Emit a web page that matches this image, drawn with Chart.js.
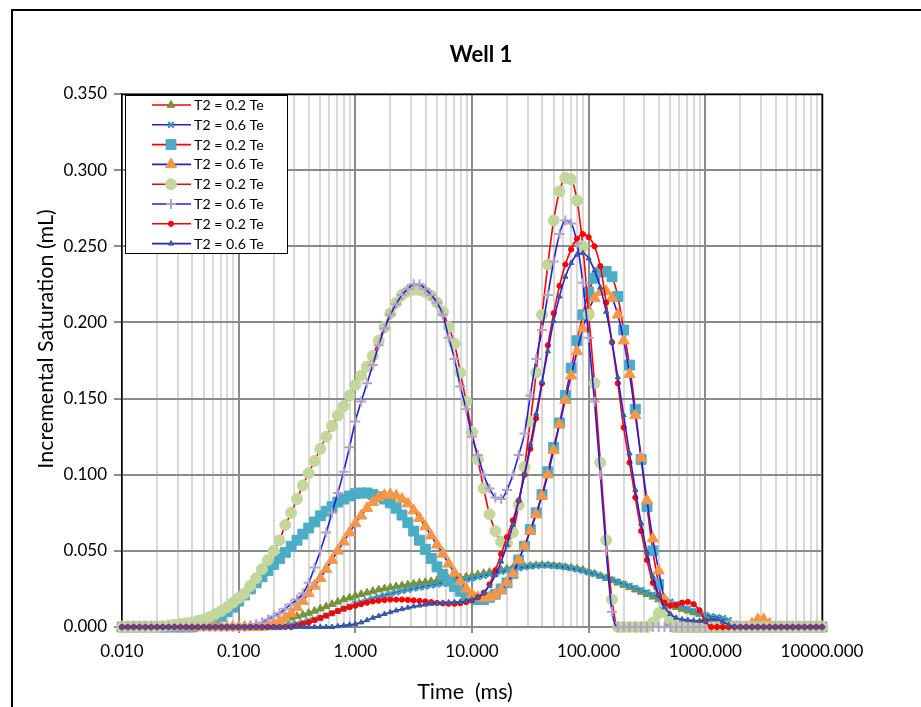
<!DOCTYPE html>
<html>
<head>
<meta charset="utf-8">
<title>Well 1</title>
<script src="https://cdn.jsdelivr.net/npm/chart.js@4.4.1/dist/chart.umd.min.js"></script>
<style>
  html, body { margin: 0; padding: 0; background: #fff; overflow: hidden; }
  canvas { display: block; }
</style>
</head>
<body>
<canvas id="chart" width="921" height="707"></canvas>
<script>
// T2 bin centres (ms): log-spaced, 20 bins per decade from 0.01 to 10000 ms
const t2Bins = [];
for (let k = 0; k <= 120; k++) t2Bins.push(Number((0.01 * Math.pow(10, k / 20)).toPrecision(6)));

// Incremental saturation (mL) per T2 bin, one array per curve
const sat02a = [
  0,0,0,0,0,0,0,0,0,0,
  0,0,0,0,0,0,0,0,0,0,
  0,0,0,0,0.001,0.002,0.003,0.004,0.005,0.006,
  0.007,0.008,0.0092,0.0105,0.012,0.0135,0.015,0.0165,0.018,0.0192,
  0.0205,0.0215,0.0225,0.0235,0.0245,0.0252,0.026,0.0266,0.0272,0.0278,
  0.0284,0.029,0.0295,0.03,0.0305,0.031,0.0315,0.032,0.0325,0.033,
  0.0337,0.0345,0.0353,0.036,0.0368,0.0375,0.0382,0.0388,0.0394,0.0398,
  0.0402,0.0405,0.0406,0.0405,0.0402,0.0398,0.0393,0.0388,0.0382,0.0374,
  0.0362,0.035,0.0335,0.032,0.0305,0.029,0.0275,0.026,0.0245,0.023,
  0.0215,0.0198,0.018,0.0162,0.0145,0.013,0.0118,0.0106,0.0095,0.0085,
  0.006,0.003,0.001,0,0,0,0,0,0,0,
  0,0,0,0,0,0,0,0,0,0,
  0
];
const sat06a = [
  0,0,0,0,0,0,0,0,0,0,
  0,0,0,0,0,0,0,0,0,0,
  0,0,0,0,0,0,0,0,0.001,0.0015,
  0.002,0.003,0.004,0.005,0.006,0.0075,0.009,0.0105,0.012,0.0135,
  0.015,0.0163,0.0175,0.0187,0.0198,0.0208,0.0218,0.0228,0.0237,0.0245,
  0.0253,0.026,0.0267,0.0274,0.028,0.0287,0.0293,0.03,0.0306,0.0313,
  0.032,0.0328,0.0336,0.0345,0.0354,0.0363,0.0372,0.038,0.0387,0.0393,
  0.0398,0.0402,0.0404,0.0404,0.0402,0.0398,0.0393,0.0386,0.0378,0.0369,
  0.0358,0.0347,0.0335,0.0322,0.031,0.0297,0.0284,0.027,0.0256,0.0242,
  0.0228,0.0213,0.0198,0.0182,0.0166,0.015,0.0135,0.012,0.0105,0.009,
  0.0078,0.007,0.0065,0.0058,0.0045,0.002,0,0,0,0,
  0,0,0,0,0,0,0,0,0,0,
  0
];
const sat02b = [
  0,0,0,0,0,0,0,0,0,0,
  0,0,0,0.001,0.002,0.003,0.005,0.007,0.01,0.013,
  0.017,0.021,0.025,0.029,0.033,0.037,0.041,0.045,0.049,0.053,
  0.057,0.061,0.065,0.069,0.073,0.076,0.079,0.082,0.084,0.086,
  0.0875,0.088,0.088,0.087,0.0855,0.084,0.0815,0.078,0.0735,0.0685,
  0.063,0.057,0.051,0.045,0.0395,0.0345,0.03,0.0265,0.0235,0.021,
  0.019,0.018,0.018,0.0195,0.0215,0.025,0.029,0.035,0.044,0.053,
  0.064,0.075,0.087,0.102,0.118,0.134,0.152,0.17,0.188,0.205,
  0.22,0.229,0.233,0.2335,0.23,0.217,0.195,0.172,0.143,0.11,
  0.079,0.05,0.028,0.01,0.003,0,0,0,0,0,
  0,0,0,0,0,0,0,0,0,0,
  0,0,0,0,0,0,0,0,0,0,
  0
];
const sat06b = [
  0,0,0,0,0,0,0,0,0,0,
  0,0,0,0,0,0,0,0,0,0,
  0,0,0,0,0,0.001,0.002,0.004,0.006,0.009,
  0.013,0.017,0.022,0.027,0.032,0.038,0.044,0.05,0.056,0.062,
  0.068,0.073,0.078,0.082,0.085,0.0865,0.087,0.0862,0.084,0.081,
  0.0765,0.0715,0.066,0.06,0.054,0.048,0.0415,0.0355,0.03,0.025,
  0.0215,0.0195,0.019,0.0195,0.021,0.024,0.029,0.035,0.044,0.053,
  0.063,0.074,0.086,0.1,0.116,0.133,0.149,0.165,0.181,0.196,
  0.208,0.216,0.22,0.2205,0.216,0.205,0.188,0.166,0.139,0.111,
  0.083,0.058,0.037,0.018,0.006,0,0,0,0,0,
  0,0,0,0,0,0,0,0,0.002,0.005,
  0.005,0.002,0,0,0,0,0,0,0,0,
  0
];
const sat02c = [
  0,0,0,0,0,0,0,0.0005,0.001,0.0015,
  0.002,0.0025,0.003,0.004,0.005,0.0065,0.0085,0.0105,0.013,0.016,
  0.019,0.022,0.027,0.032,0.038,0.044,0.05,0.057,0.067,0.075,
  0.084,0.093,0.101,0.109,0.117,0.125,0.132,0.139,0.145,0.152,
  0.159,0.165,0.171,0.178,0.188,0.197,0.206,0.213,0.218,0.2205,
  0.2215,0.2213,0.22,0.2175,0.213,0.207,0.197,0.186,0.167,0.148,
  0.128,0.11,0.091,0.074,0.063,0.056,0.055,0.062,0.08,0.105,
  0.135,0.167,0.205,0.238,0.267,0.286,0.295,0.294,0.28,0.25,
  0.205,0.16,0.108,0.057,0.018,0,0,0,0,0,
  0,0.003,0.009,0.01,0.005,0,0,0,0,0,
  0,0,0,0,0,0,0,0,0,0,
  0,0,0,0,0,0,0,0,0,0,
  0
];
const sat06c = [
  0,0,0,0,0,0,0,0,0,0,
  0,0,0,0,0,0,0,0,0,0,
  0,0,0.001,0.002,0.003,0.005,0.007,0.009,0.012,0.015,
  0.018,0.022,0.029,0.039,0.05,0.062,0.075,0.088,0.102,0.118,
  0.135,0.148,0.16,0.172,0.185,0.196,0.205,0.212,0.218,0.222,
  0.225,0.225,0.222,0.218,0.213,0.205,0.19,0.176,0.158,0.143,
  0.125,0.113,0.1,0.091,0.085,0.084,0.09,0.1,0.113,0.127,
  0.152,0.176,0.195,0.218,0.24,0.258,0.267,0.265,0.252,0.226,
  0.19,0.148,0.1,0.05,0.01,0,0,0,0,0,
  0,0,0,0,0,0,0,0,0,0,
  0,0,0,0,0,0,0,0,0,0,
  0,0,0,0,0,0,0,0,0,0,
  0
];
const sat02d = [
  0,0,0,0,0,0,0,0,0,0,
  0,0,0,0,0,0,0,0,0,0,
  0,0,0,0,0,0,0,0,0,0,
  0.001,0.002,0.003,0.0045,0.006,0.0075,0.009,0.0105,0.012,0.013,
  0.014,0.015,0.016,0.0168,0.0173,0.0177,0.018,0.018,0.018,0.0178,
  0.0175,0.0172,0.0168,0.0163,0.0158,0.0155,0.0153,0.0153,0.0156,0.0163,
  0.0175,0.0195,0.0225,0.028,0.037,0.048,0.059,0.07,0.083,0.1,
  0.117,0.137,0.16,0.185,0.206,0.224,0.238,0.248,0.255,0.258,
  0.256,0.25,0.237,0.213,0.187,0.16,0.131,0.108,0.085,0.063,
  0.044,0.029,0.021,0.016,0.014,0.0145,0.016,0.0165,0.015,0.011,
  0.004,0,0,0,0,0,0,0,0,0,
  0,0,0,0,0,0,0,0,0,0,
  0
];
const sat06d = [
  0,0,0,0,0,0,0,0,0,0,
  0,0,0,0,0,0,0,0,0,0,
  0,0,0,0,0,0,0,0,0,0,
  0,0,0,0,0,0,0,0.0005,0.001,0.0015,
  0.002,0.003,0.0045,0.006,0.0072,0.0085,0.0097,0.0108,0.0118,0.0127,
  0.0135,0.0141,0.0147,0.0152,0.0156,0.0159,0.0161,0.0163,0.0165,0.017,
  0.018,0.0195,0.0225,0.027,0.034,0.043,0.054,0.067,0.083,0.1,
  0.12,0.14,0.161,0.181,0.201,0.217,0.23,0.239,0.2445,0.2455,
  0.242,0.234,0.223,0.207,0.187,0.164,0.139,0.114,0.09,0.068,
  0.049,0.033,0.021,0.013,0.0085,0.006,0.005,0.0045,0.0042,0.004,
  0.004,0.005,0.005,0.0035,0.0015,0,0,0,0,0,
  0,0,0,0,0,0,0,0,0,0,
  0
];

const seriesNames = ['T2 = 0.2 Te', 'T2 = 0.6 Te', 'T2 = 0.2 Te', 'T2 = 0.6 Te',
                     'T2 = 0.2 Te', 'T2 = 0.6 Te', 'T2 = 0.2 Te', 'T2 = 0.6 Te'];
const seriesValues = [sat02a, sat06a, sat02b, sat06b, sat02c, sat06c, sat02d, sat06d];

const xDecades = [0.01, 0.1, 1, 10, 100, 1000, 10000];
const yTickValues = [0, 0.05, 0.10, 0.15, 0.20, 0.25, 0.30, 0.35];

const RED = '#FF0000';
const BLUE = '#2020DA';
const styles = [
  { line: RED,  marker: 'triangle', r: 4.5, fill: '#77933C', stroke: '#77933C', bw: 1 },
  { line: BLUE, marker: 'crossRot', r: 4,   fill: '#3E9BB3', stroke: '#3E9BB3', bw: 2.2 },
  { line: RED,  marker: 'rect',     r: 7,   fill: '#4BACC6', stroke: '#4BACC6', bw: 1 },
  { line: BLUE, marker: 'triangle', r: 6.5, fill: '#F79646', stroke: '#F79646', bw: 1 },
  { line: RED,  marker: 'circle',   r: 5.5, fill: '#C3D69B', stroke: '#C3D69B', bw: 1 },
  { line: BLUE, marker: 'cross',    r: 5,   fill: '#B3A2C7', stroke: '#B3A2C7', bw: 2 },
  { line: RED,  marker: 'circle',   r: 2.6, fill: '#FF0000', stroke: '#FF0000', bw: 1 },
  { line: BLUE, marker: 'triangle', r: 3,   fill: '#3A5BA0', stroke: '#3A5BA0', bw: 1 }
];

const FONT = 'Lato, "Liberation Sans", sans-serif';

const datasets = seriesValues.map((vals, k) => ({
  label: seriesNames[k],
  data: t2Bins.map((x, j) => ({ x: x, y: vals[j] })),
  borderColor: styles[k].line,
  borderWidth: 1.6,
  backgroundColor: styles[k].fill,
  pointStyle: styles[k].marker,
  pointRadius: styles[k].r,
  pointBackgroundColor: styles[k].fill,
  pointBorderColor: styles[k].stroke,
  pointBorderWidth: styles[k].bw,
  cubicInterpolationMode: 'monotone',
  fill: false,
  clip: false,
  order: seriesValues.length - 1 - k
}));

const isDecade = v => { const l = Math.log10(v); return Math.abs(l - Math.round(l)) < 1e-9; };

// page frame, plot border, title and axis titles
const decorPlugin = {
  id: 'decor',
  beforeDraw(chart) {
    const c = chart.ctx;
    c.save();
    c.fillStyle = '#fff';
    c.fillRect(0, 0, chart.width, chart.height);
    c.strokeStyle = '#000';
    c.lineWidth = 2;
    c.beginPath();
    c.moveTo(12, chart.height + 5);
    c.lineTo(12, 10);
    c.lineTo(chart.width + 5, 10);
    c.stroke();
    c.restore();
  },
  beforeDatasetsDraw(chart) {
    const a = chart.chartArea, c = chart.ctx;
    c.save();
    c.strokeStyle = '#000';
    c.lineWidth = 1.5;
    c.beginPath();
    c.moveTo(a.left, a.top + 0.5);
    c.lineTo(a.right, a.top + 0.5);
    c.moveTo(a.right + 0.5, a.top);
    c.lineTo(a.right + 0.5, a.bottom);
    c.stroke();
    c.restore();
  },
  afterDraw(chart) {
    const c = chart.ctx;
    c.save();
    c.fillStyle = '#000';
    c.textAlign = 'center';
    c.textBaseline = 'middle';
    c.font = 'bold 22px ' + FONT;
    c.fillText('Well 1', 481, 55);
    c.font = '21.5px ' + FONT;
    c.fillText('Time  (ms)', 465, 692);
    c.translate(46, 339);
    c.rotate(-Math.PI / 2);
    c.fillText('Incremental Saturation (mL)', 0, 0);
    c.restore();
  }
};

// boxed legend inside the plot area
const boxLegendPlugin = {
  id: 'boxLegend',
  afterDatasetsDraw(chart) {
    const c = chart.ctx;
    const x0 = 125, y0 = 95, w = 162, h = 158;
    c.save();
    c.fillStyle = '#fff';
    c.fillRect(x0, y0, w, h);
    c.strokeStyle = '#000';
    c.lineWidth = 1;
    c.strokeRect(x0 + 0.5, y0 + 0.5, w, h);
    c.font = '14.2px ' + FONT;
    c.textAlign = 'left';
    c.textBaseline = 'middle';
    chart.data.datasets.forEach((ds, k) => {
      const y = 105 + k * 19.8;
      c.strokeStyle = ds.borderColor;
      c.lineWidth = 1.6;
      c.beginPath();
      c.moveTo(152, y);
      c.lineTo(191, y);
      c.stroke();
      c.fillStyle = ds.pointBackgroundColor;
      c.strokeStyle = ds.pointBorderColor;
      c.lineWidth = ds.pointBorderWidth;
      Chart.helpers.drawPoint(c, {
        pointStyle: ds.pointStyle, radius: ds.pointRadius, rotation: 0, borderWidth: ds.pointBorderWidth
      }, 171, y);
      c.fillStyle = '#000';
      c.fillText(ds.label, 194, y + 0.5);
    });
    c.restore();
  }
};

function draw() {
  new Chart(document.getElementById('chart'), {
    type: 'line',
    data: { datasets },
    plugins: [decorPlugin, boxLegendPlugin],
    options: {
      responsive: false,
      animation: false,
      events: [],
      layout: { padding: { left: 0, top: 94, right: 99, bottom: 0 } },
      plugins: { legend: { display: false }, title: { display: false }, tooltip: { enabled: false } },
      scales: {
        x: {
          type: 'logarithmic',
          min: xDecades[0],
          max: xDecades[xDecades.length - 1],
          afterFit(scale) { scale.height = 80; },
          afterBuildTicks(scale) {
            const ticks = [];
            xDecades.forEach((d, i) => {
              ticks.push({ value: d });
              if (i < xDecades.length - 1) for (let m = 2; m <= 9; m++) ticks.push({ value: Number((m * d).toPrecision(6)) });
            });
            scale.ticks = ticks;
          },
          ticks: {
            autoSkip: false,
            maxRotation: 0,
            padding: 8,
            color: '#000',
            font: { family: FONT, size: 17 },
            callback: v => isDecade(v) ? v.toFixed(3) : ''
          },
          grid: {
            color: ctx => (ctx.tick && isDecade(ctx.tick.value)) ? '#8A8A8A' : '#D9D9D9',
            tickColor: ctx => (ctx.tick && isDecade(ctx.tick.value)) ? '#8A8A8A' : 'rgba(0,0,0,0)',
            lineWidth: 2,
            tickLength: 6
          },
          border: { color: '#8A8A8A', width: 2 }
        },
        y: {
          type: 'linear',
          min: 0,
          max: 0.35,
          afterFit(scale) { scale.width = 122; },
          afterBuildTicks(scale) { scale.ticks = yTickValues.map(v => ({ value: v })); },
          ticks: {
            padding: 7,
            color: '#000',
            font: { family: FONT, size: 17 },
            callback: v => Number(v).toFixed(3)
          },
          grid: { color: '#8A8A8A', lineWidth: 2, tickLength: 8 },
          border: { color: '#000', width: 1.5 }
        }
      }
    }
  });
}

if (document.fonts && document.fonts.load) {
  Promise.all([
    document.fonts.load('17px Lato'),
    document.fonts.load('bold 22px Lato')
  ]).then(draw, draw);
} else {
  draw();
}
</script>
</body>
</html>
